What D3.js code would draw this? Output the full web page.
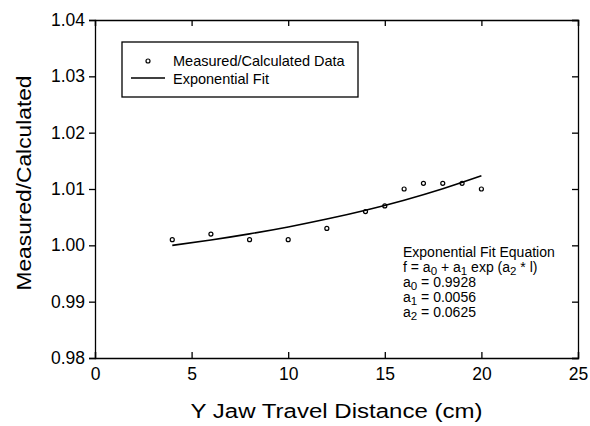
<!DOCTYPE html>
<html>
	<head>
		<style>
			body { margin: 0; background: #fff; }
			text { font-family: "Liberation Sans", Arial, sans-serif; fill: #000; }
			.tick text { font-size: 17.5px; }
		</style>
	</head>
	<body>
		<script src="https://cdn.jsdelivr.net/npm/d3@7"></script>
		<script>
			// measured / calculated points
			var distance = [4, 6, 8, 10, 12, 14, 15, 16, 17, 18, 19, 20];
			var ratio = [1.001, 1.002, 1.001, 1.001, 1.003, 1.006, 1.007, 1.010, 1.011, 1.011, 1.011, 1.010];
			// exponential fit curve
			var fitX = [4, 6, 8, 10, 12, 14, 16, 18, 20];
			var fitY = [1.0000, 1.00095, 1.00203, 1.00326, 1.00466, 1.00623, 1.00802, 1.01005, 1.01235];
			var xTicks = [0, 5, 10, 15, 20, 25];
			var yTicks = [0.98, 0.99, 1.00, 1.01, 1.02, 1.03, 1.04];

			var width = 590, height = 426;
			// plot frame edges (not "top": that name is taken by window.top)
			var pLeft = 95, pRight = 578, pTop = 20, pBottom = 358;

			var svg = d3.select('body').append('svg')
				.attr('width', width)
				.attr('height', height);

			var x = d3.scaleLinear().domain([0, 25]).range([pLeft, pRight]);
			var y = d3.scaleLinear().domain([0.98, 1.04]).range([pBottom, pTop]);

			// axes: left ticks point out, the other three point in
			svg.append('g')
				.attr('transform', 'translate(' + pLeft + ',0)')
				.call(d3.axisLeft(y).tickValues(yTicks).tickFormat(d3.format('.2f')).tickSize(6).tickPadding(4));
			svg.append('g')
				.attr('transform', 'translate(0,' + pBottom + ')')
				.call(d3.axisBottom(x).tickValues(xTicks).tickSize(-6).tickPadding(10));
			svg.append('g')
				.attr('transform', 'translate(0,' + pTop + ')')
				.call(d3.axisTop(x).tickValues(xTicks).tickSize(-6).tickFormat(''));
			svg.append('g')
				.attr('transform', 'translate(' + pRight + ',0)')
				.call(d3.axisRight(y).tickValues(yTicks).tickSize(-6).tickFormat(''));

			svg.selectAll('.domain').attr('stroke-width', 1.3);
			svg.selectAll('.tick line').attr('stroke-width', 1.3);

			// fit line
			var line = d3.line()
				.x(function(d, i) { return x(fitX[i]); })
				.y(function(d) { return y(d); })
				.curve(d3.curveNatural);
			svg.append('path')
				.datum(fitY)
				.attr('d', line)
				.attr('fill', 'none')
				.attr('stroke', '#000')
				.attr('stroke-width', 1.6);

			// data points
			svg.selectAll('circle.pt').data(ratio).enter().append('circle')
				.attr('class', 'pt')
				.attr('cx', function(d, i) { return x(distance[i]); })
				.attr('cy', function(d) { return y(d); })
				.attr('r', 2)
				.attr('fill', 'none')
				.attr('stroke', '#000')
				.attr('stroke-width', 1.2);

			// legend
			var leg = svg.append('g');
			leg.append('rect')
				.attr('x', 122).attr('y', 42).attr('width', 236).attr('height', 55)
				.attr('fill', 'none').attr('stroke', '#000').attr('stroke-width', 1.3);
			leg.append('circle')
				.attr('cx', 148).attr('cy', 61).attr('r', 2)
				.attr('fill', 'none').attr('stroke', '#000').attr('stroke-width', 1.2);
			leg.append('line')
				.attr('x1', 131).attr('x2', 165).attr('y1', 78).attr('y2', 78)
				.attr('stroke', '#000').attr('stroke-width', 1.6);
			leg.append('text').attr('x', 173).attr('y', 66).style('font-size', '14.5px')
				.text('Measured/Calculated Data');
			leg.append('text').attr('x', 173).attr('y', 84).style('font-size', '14.5px')
				.text('Exponential Fit');

			// equation block
			var eq = svg.append('g').style('font-size', '14px');
			eq.append('text').attr('x', 403).attr('y', 257).text('Exponential Fit Equation');
			var f = eq.append('text').attr('x', 403).attr('y', 272);
			f.append('tspan').text('f = a');
			f.append('tspan').attr('dy', 2.5).style('font-size', '11.5px').text('0');
			f.append('tspan').attr('dy', -2.5).text(' + a');
			f.append('tspan').attr('dy', 2.5).style('font-size', '11.5px').text('1');
			f.append('tspan').attr('dy', -2.5).text(' exp (a');
			f.append('tspan').attr('dy', 2.5).style('font-size', '11.5px').text('2');
			f.append('tspan').attr('dy', -2.5).text(' * l)');

			var coefNames = ['0', '1', '2'];
			var coefValues = ['0.9928', '0.0056', '0.0625'];
			coefNames.forEach(function(n, i) {
				var t = eq.append('text').attr('x', 403).attr('y', 287 + i * 15);
				t.append('tspan').text('a');
				t.append('tspan').attr('dy', 2.5).style('font-size', '11.5px').text(n);
				t.append('tspan').attr('dy', -2.5).text(' = ' + coefValues[i]);
			});

			// axis titles
			svg.append('text')
				.attr('x', (pLeft + pRight) / 2).attr('y', 418)
				.attr('text-anchor', 'middle')
				.attr('textLength', 292).attr('lengthAdjust', 'spacingAndGlyphs')
				.style('font-size', '20px')
				.text('Y Jaw Travel Distance (cm)');
			svg.append('text')
				.attr('transform', 'translate(31,' + 183 + ') rotate(-90)')
				.attr('text-anchor', 'middle')
				.attr('textLength', 215).attr('lengthAdjust', 'spacingAndGlyphs')
				.style('font-size', '20px')
				.text('Measured/Calculated');
		</script>
	</body>
</html>
